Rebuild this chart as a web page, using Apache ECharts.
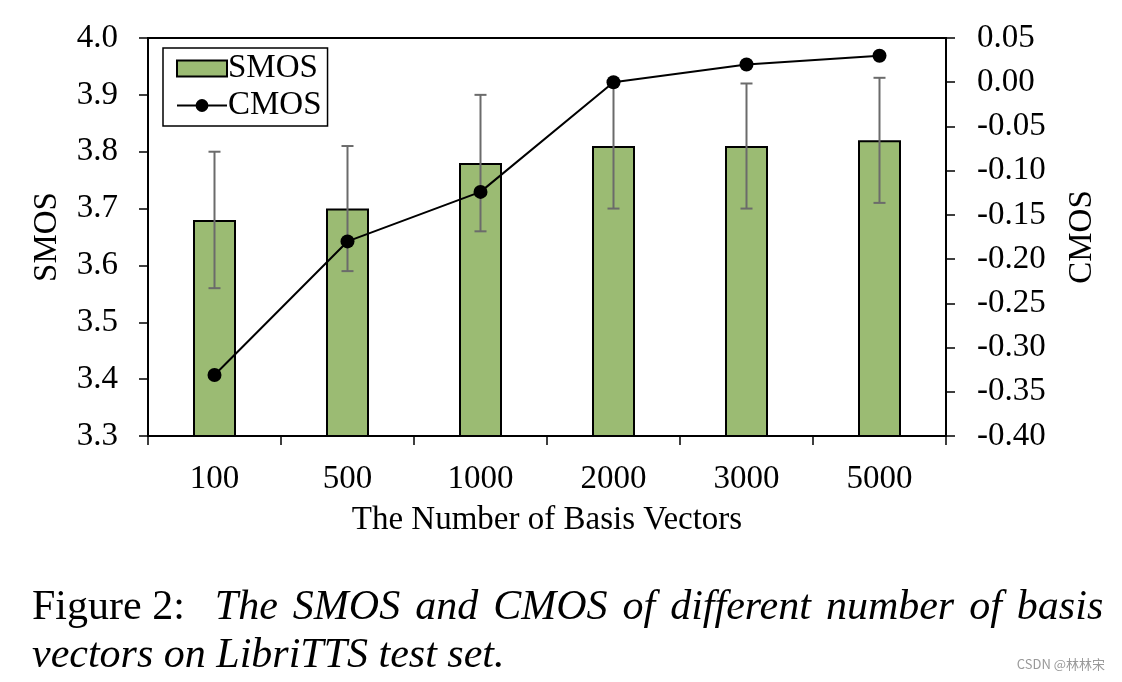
<!DOCTYPE html>
<html><head><meta charset="utf-8">
<script src="https://cdn.jsdelivr.net/npm/echarts@6/dist/echarts.min.js"></script>
<style>html,body{margin:0;padding:0;background:#fff}#c{width:1122px;height:682px}</style>
</head><body><div id="c"></div>
<script>
const categories = ['100','500','1000','2000','3000','5000'];
const smos = [3.68, 3.70, 3.78, 3.81, 3.81, 3.82];
const smosLow = [3.56, 3.59, 3.66, 3.70, 3.70, 3.71];
const smosHigh = [3.80, 3.81, 3.90, 3.92, 3.92, 3.93];
const cmos = [-0.331, -0.18, -0.124, 0.00, 0.02, 0.03];

const serif = '"Liberation Serif", "DejaVu Serif", serif';
const captionLine1 = 'The SMOS and CMOS of different number of basis';
const captionLine2 = 'vectors on LibriTTS test set.';
const line1Rich = captionLine1.split(' ').map(w => '{i|' + w + '}').join('{s| }');

const chart = echarts.init(document.getElementById('c'));
chart.setOption({
  animation: false,
  backgroundColor: '#fff',
  textStyle: { fontFamily: serif, color: '#000' },
  grid: { left: 148, right: 176, top: 38, height: 398, show: true, borderColor: '#000', borderWidth: 2, backgroundColor: 'transparent' },
  legend: {
    left: 163, top: 48, orient: 'vertical', itemGap: 4,
    borderColor: '#000', borderWidth: 1.5, padding: [4, 6, 4, 13],
    itemWidth: 50, itemHeight: 16,
    textStyle: { fontFamily: serif, fontSize: 33, color: '#000', padding: [0,0,0,-4] },
    data: [{ name: 'SMOS', icon: 'rect' }, { name: 'CMOS' }]
  },
  xAxis: {
    type: 'category', data: categories,
    name: 'The Number of Basis Vectors', nameLocation: 'middle', nameGap: 68,
    nameTextStyle: { fontFamily: serif, fontSize: 33, color: '#000' },
    axisLine: { onZero: false, lineStyle: { color: '#000', width: 2 } },
    axisTick: { show: true, inside: false, length: 9, lineStyle: { color: '#000', width: 1.5 } },
    axisLabel: { fontFamily: serif, fontSize: 33, color: '#000', margin: 27 }
  },
  yAxis: [{
    type: 'value', min: 3.3, max: 4.0, interval: 0.1, position: 'left',
    name: 'SMOS', nameLocation: 'middle', nameGap: 84, nameRotate: 90,
    nameTextStyle: { fontFamily: serif, fontSize: 33, color: '#000' },
    splitLine: { show: false },
    axisLine: { show: true, lineStyle: { color: '#000', width: 2 } },
    axisTick: { show: true, inside: false, length: 9, lineStyle: { color: '#000', width: 1.5 } },
    axisLabel: { fontFamily: serif, fontSize: 33, color: '#000', margin: 30, formatter: v => v.toFixed(1) }
  }, {
    type: 'value', min: -0.4, max: 0.05, interval: 0.05, position: 'right',
    name: 'CMOS', nameLocation: 'middle', nameGap: 120, nameRotate: 90,
    nameTextStyle: { fontFamily: serif, fontSize: 33, color: '#000' },
    splitLine: { show: false },
    axisLine: { show: true, onZero: false, lineStyle: { color: '#000', width: 2 } },
    axisTick: { show: true, inside: false, length: 9, lineStyle: { color: '#000', width: 1.5 } },
    axisLabel: { fontFamily: serif, fontSize: 33, color: '#000', margin: 31, formatter: v => (Math.abs(v) < 1e-9 ? 0 : v).toFixed(2) }
  }],
  series: [{
    name: 'SMOS', type: 'bar', data: smos, barWidth: 43, z: 2,
    itemStyle: { color: '#9bbb73', borderColor: '#000', borderWidth: 2 }
  }, {
    name: 'err', type: 'custom', z: 3,
    data: smosLow.map((l, i) => [i, l, smosHigh[i]]),
    encode: { x: 0, y: [1, 2] },
    renderItem: (params, api) => {
      const lo = api.coord([api.value(0), api.value(1)]);
      const hi = api.coord([api.value(0), api.value(2)]);
      const w = 6;
      const st = { stroke: '#6b6b6b', lineWidth: 2 };
      return { type: 'group', children: [
        { type: 'line', shape: { x1: lo[0], y1: lo[1], x2: hi[0], y2: hi[1] }, style: st },
        { type: 'line', shape: { x1: lo[0]-w, y1: lo[1], x2: lo[0]+w, y2: lo[1] }, style: st },
        { type: 'line', shape: { x1: hi[0]-w, y1: hi[1], x2: hi[0]+w, y2: hi[1] }, style: st }
      ]};
    }
  }, {
    name: 'CMOS', type: 'line', yAxisIndex: 1, data: cmos, z: 4,
    symbol: 'circle', symbolSize: 14,
    lineStyle: { color: '#000', width: 2 },
    itemStyle: { color: '#000' }
  }],
  graphic: [{
    type: 'text', left: 32, top: 578,
    style: {
      text: '{n|Figure 2:}{s| }{s| }' + line1Rich + '\n{i|' + captionLine2 + '}',
      rich: {
        n: { fontFamily: serif, fontSize: 42, fill: '#000', lineHeight: 48 },
        i: { fontFamily: serif, fontSize: 42, fontStyle: 'italic', fill: '#000', lineHeight: 48 },
        s: { fontFamily: serif, fontSize: 60, fill: '#000', lineHeight: 48 }
      }
    }
  }, {
    type: 'text', right: 17, top: 658,
    style: { text: 'CSDN @林林宋', fontFamily: '"Noto Sans CJK SC", sans-serif', fontSize: 13, fill: '#999' }
  }]
});
</script></body></html>
